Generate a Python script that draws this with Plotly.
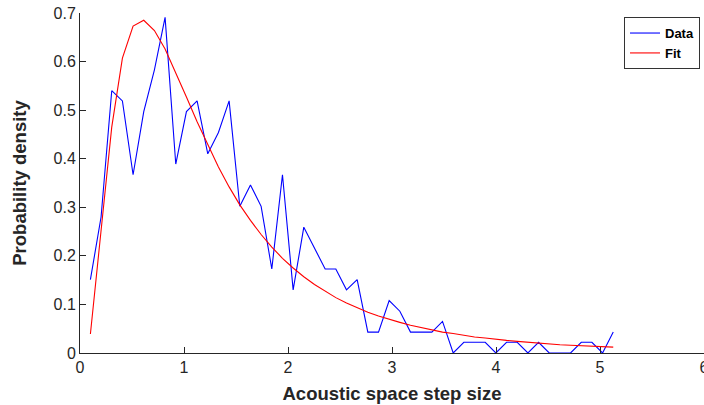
import plotly.graph_objects as go

# Bin centres of the step-size histogram (50 bins)
bin_start = 0.1
bin_width = 0.1026
n_bins = 50
step_size = [round(bin_start + bin_width * i, 4) for i in range(n_bins)]

# Empirical probability density per bin
data_density = [
    0.151, 0.280, 0.540, 0.519, 0.367, 0.497, 0.583, 0.691, 0.389, 0.497,
    0.519, 0.410, 0.454, 0.519, 0.302, 0.346, 0.302, 0.173, 0.367, 0.130,
    0.259, 0.216, 0.173, 0.173, 0.130, 0.151, 0.043, 0.043, 0.108, 0.086,
    0.043, 0.043, 0.043, 0.065, 0.000, 0.022, 0.022, 0.022, 0.000, 0.022,
    0.022, 0.000, 0.022, 0.000, 0.000, 0.000, 0.022, 0.022, 0.000, 0.043,
]

# Fitted density evaluated at the same bin centres
fit_density = [
    0.039, 0.245, 0.465, 0.607, 0.673, 0.685, 0.664, 0.626, 0.578, 0.527,
    0.476, 0.428, 0.383, 0.342, 0.305, 0.273, 0.244, 0.218, 0.195, 0.175,
    0.157, 0.141, 0.127, 0.114, 0.103, 0.093, 0.084, 0.076, 0.069, 0.063,
    0.057, 0.052, 0.047, 0.043, 0.040, 0.036, 0.033, 0.031, 0.028, 0.026,
    0.024, 0.022, 0.020, 0.019, 0.017, 0.016, 0.015, 0.014, 0.013, 0.012,
]

x_ticks = [0, 1, 2, 3, 4, 5, 6]
y_ticks = [0, 0.1, 0.2, 0.3, 0.4, 0.5, 0.6, 0.7]

axis_color = "#262626"
font_family = "Liberation Sans, Arial, sans-serif"

fig = go.Figure()
fig.add_trace(go.Scatter(
    x=step_size, y=data_density, mode="lines", name="Data",
    line=dict(color="#0000FF", width=1.1),
))
fig.add_trace(go.Scatter(
    x=step_size, y=fit_density, mode="lines", name="Fit",
    line=dict(color="#FF0000", width=1.1),
))

fig.update_layout(
    width=704, height=405,
    margin=dict(l=80, r=0, t=13, b=52, autoexpand=False),
    paper_bgcolor="white", plot_bgcolor="white",
    font=dict(family=font_family, color=axis_color, size=16),
    showlegend=True,
    legend=dict(
        x=0.9936, y=0.988, xanchor="right", yanchor="top",
        bgcolor="white", bordercolor="#333333", borderwidth=1,
        font=dict(family=font_family, size=13, color="black", weight="bold"),
        itemwidth=30, tracegroupgap=0,
    ),
)

fig.update_xaxes(
    range=[0, 6], tickvals=x_ticks, ticktext=[str(v) for v in x_ticks],
    showline=True, linecolor=axis_color, linewidth=1,
    ticks="inside", ticklen=6, tickcolor=axis_color,
    showgrid=False, zeroline=False, ticklabeloverflow="allow", automargin=False,
    tickfont=dict(size=16, color=axis_color),
    title=dict(text="<b>Acoustic space step size</b>", font=dict(size=18.5, color=axis_color), standoff=11),
)
fig.update_yaxes(
    range=[0, 0.7], tickvals=y_ticks, ticktext=["0", "0.1", "0.2", "0.3", "0.4", "0.5", "0.6", "0.7"],
    showline=True, linecolor=axis_color, linewidth=1,
    ticks="inside", ticklen=6, tickcolor=axis_color,
    showgrid=False, zeroline=False, automargin=False,
    tickfont=dict(size=16, color=axis_color),
    title=dict(text="<b>Probability density</b>", font=dict(size=18.5, color=axis_color), standoff=22),
)

fig.write_html("out.html")
